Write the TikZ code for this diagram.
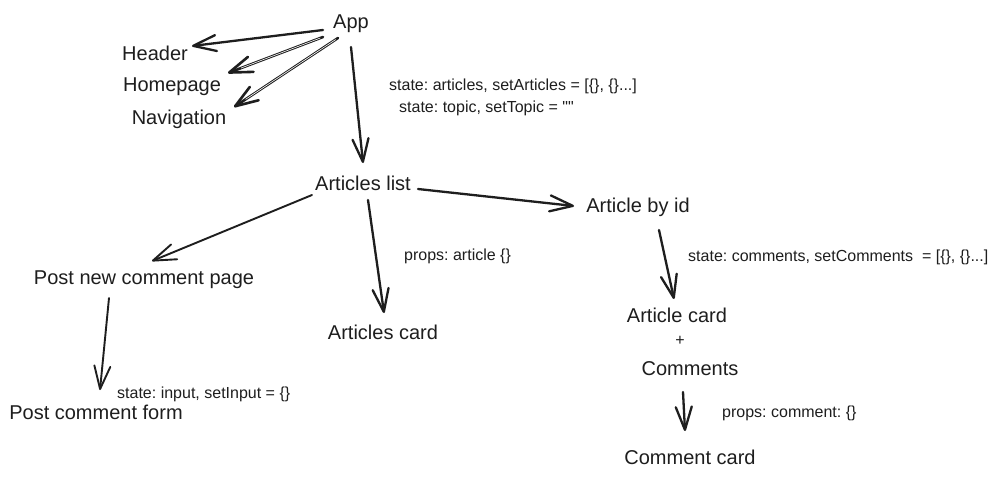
\documentclass[tikz,border=0pt]{standalone}
\usepackage{fontspec}
\setmainfont{Liberation Sans}[Ligatures=TeXOff]
\usetikzlibrary{arrows.meta}
\definecolor{ink}{HTML}{1E1E1E}
\frenchspacing
\pgfdeclarearrow{
  name = SketchV,
  parameters = {\the\pgfarrowlength,\the\pgfarrowwidth,\the\pgflinewidth},
  setup code = {
    \pgfarrowssettipend{.5\pgflinewidth}
    \pgfarrowssetlineend{-.5\pgflinewidth}
    \pgfarrowsupperhullpoint{-\pgfarrowlength}{.5\pgfarrowwidth}
    \pgfarrowsupperhullpoint{.5\pgflinewidth}{0pt}
    \pgfarrowssavethe\pgfarrowlength
    \pgfarrowssavethe\pgfarrowwidth
  },
  drawing code = {
    \pgfsetroundjoin
    \pgfsetroundcap
    \pgfsetdash{}{0pt}
    \pgfpathmoveto{\pgfqpoint{-\pgfarrowlength}{.5\pgfarrowwidth}}
    \pgfpathlineto{\pgfpointorigin}
    \pgfpathlineto{\pgfqpoint{-\pgfarrowlength}{-.5\pgfarrowwidth}}
    \pgfusepathqstroke
  },
  defaults = {length=22pt, width=16pt}
}
\tikzset{
  big/.style={anchor=base, inner sep=0pt, text=ink, font=\fontsize{20}{24}\selectfont},
  small/.style={anchor=base west, inner sep=0pt, text=ink, font=\fontsize{16}{19}\selectfont},
  conn/.style={draw=ink, line width=2.3pt, line cap=round, -{SketchV[length=23pt,width=16pt]}},
  thinconn/.style={conn, line width=1.9pt},
  dconn/.style={conn, line width=2.6pt, postaction={draw=white, line width=0.6pt, shorten >=14pt, shorten <=3pt, -}}
}
\begin{document}
\begin{tikzpicture}[x=1pt,y=-1pt]
\fill[white] (0,0) rectangle (998,479);
\useasboundingbox (0,0) rectangle (998,479);

\node[big] (App) at (351,28.5) {App};
\node[big] (Header) at (155,60.5) {Header};
\node[big] (Homepage) at (172,91.5) {Homepage};
\node[big] (Navigation) at (179,124.5) {Navigation};
\node[big] (AL) at (363,190.5) {Articles list};
\node[big] (AbI) at (638,212.5) {Article by id};
\node[big] (PN) at (144,284.5) {Post new comment page};
\node[big] (AC) at (383,339.5) {Articles card};
\node[big] (ArtCard) at (677,322.5) {Article card};
\node[small, anchor=base] (plus) at (680,345) {+};
\node[big] (Comments) at (690,375.5) {Comments};
\node[big] (CC) at (690,464.5) {Comment card};
\node[big] (PCF) at (96,419.5) {Post comment form};

\node[small] (s1) at (389,90) {state: articles, setArticles = [\{\}, \{\}...]};
\node[small] (s2) at (399,112) {state: topic, setTopic = ""};
\node[small] (p1) at (404,260) {props: article \{\}};
\node[small] (s3) at (688,261) {state: comments, setComments\ \ = [\{\}, \{\}...]};
\node[small] (p2) at (722,417) {props: comment: \{\}};
\node[small] (s4) at (117,398) {state: input, setInput = \{\}};

\draw[conn] ([shift={(-28,1.5)}]App.base) -- ([shift={(37,-14.5)}]Header.base);
\draw[dconn] ([shift={(-28,8.5)}]App.base) -- ([shift={(56,-18.5)}]Homepage.base);
\draw[dconn] ([shift={(-13,9.5)}]App.base) -- ([shift={(55,-17.5)}]Navigation.base);
\draw[conn] ([shift={(0,18.5)}]App.base) -- ([shift={(0,-27.5)}]AL.base);
\draw[thinconn] ([shift={(-51,4.5)}]AL.base) -- ([shift={(8,-23.5)}]PN.base);
\draw[conn] ([shift={(5,9.5)}]AL.base) -- ([shift={(1,-26.5)}]AC.base);
\draw[conn] ([shift={(55,-1.5)}]AL.base) -- ([shift={(-64,-6.5)}]AbI.base);
\draw[conn] ([shift={(21,17.5)}]AbI.base) -- ([shift={(-3,-23.5)}]ArtCard.base);
\draw[thinconn] ([shift={(-35,13.5)}]PN.base) -- ([shift={(4,-29.5)}]PCF.base);
\draw[conn] ([shift={(-7,16.5)}]Comments.base) -- ([shift={(-5,-33.5)}]CC.base);
\end{tikzpicture}
\end{document}
